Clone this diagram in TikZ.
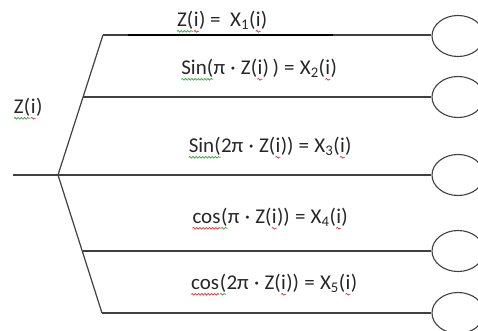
\documentclass[tikz,border=0pt]{standalone}
\usepackage{fontspec}
\setmainfont{Carlito}
\usetikzlibrary{shapes.geometric,decorations.pathmorphing}
\definecolor{ln}{HTML}{404040}
\definecolor{wgreen}{HTML}{3DA03D}
\definecolor{wred}{HTML}{E03030}
\newcommand\wv[2]{\tikz[baseline=(w.base),x=1pt,y=1pt]{\node[inner sep=0pt,outer sep=0pt,anchor=base] (w) {#2};\draw[#1,line width=0.7pt,decorate,decoration={snake,amplitude=0.9pt,segment length=3.2pt}] ([yshift=-4.5pt]w.base west) -- ([yshift=-4.5pt]w.base east);}}
\newcommand\gw[1]{\wv{wgreen}{#1}}
\newcommand\rw[1]{\wv{wred}{#1}}
\newcommand\gapsp{\hspace{0.25em}}
\tikzset{
  branch/.style={draw=ln, line width=1.2pt},
  endcirc/.style={draw=ln, line width=1.1pt, ellipse, minimum width=52pt, minimum height=41pt, inner sep=0pt},
  lbl/.style={font=\fontsize{21}{24}\selectfont, text=black!85, inner sep=0pt},
}
\begin{document}
\begin{tikzpicture}[x=1pt,y=-1pt]
\useasboundingbox (0,0) rectangle (478,331);
% end circles
\node[endcirc] (c1) at (458,36) {};
\node[endcirc] (c2) at (458,97) {};
\node[endcirc] (c3) at (458,175) {};
\node[endcirc] (c4) at (458,251) {};
\node[endcirc] (c5) at (458,313) {};
% branch points
\coordinate (in) at (13,175);
\coordinate (j) at (58,175);
\coordinate (a1) at (103,35);
\coordinate (a2) at (83,97);
\coordinate (a4) at (83,251);
\coordinate (a5) at (102,313);
\coordinate (t1) at (128,35);
\coordinate (t2) at (333,35);
% connectors
\draw[branch] (a1) -- (j) -- (a5);
\draw[branch] (in) -- (c3.west);
\draw[branch] (a1) -- (c1.west |- a1);
\draw[branch] (a2) -- (c2.west);
\draw[branch] (a4) -- (c4.west);
\draw[branch] (a5) -- (c5.west |- a5);
\draw[line width=2.2pt, black] (t1) -- (t2);
% labels
\node[lbl] (l1) at (222,22) {\gw{Z(}\rw{i})\ =\ \ X\textsubscript{1}(\rw{i})};
\node[lbl] (l2) at (259,70) {\gw{Sin(}π\gapsp·\gapsp Z(\rw{i})\,)\gapsp=\gapsp X\textsubscript{2}(\rw{i})};
\node[lbl] (l3) at (270,148) {\gw{Sin(}2π\gapsp·\gapsp Z(\rw{i}))\gapsp=\gapsp X\textsubscript{3}(\rw{i})};
\node[lbl] (l4) at (270,219) {\rw{cos}\gw{(}π\gapsp·\gapsp Z(\rw{i}))\gapsp=\gapsp X\textsubscript{4}(\rw{i})};
\node[lbl] (l5) at (274,285) {\rw{cos}\gw{(}2π\gapsp·\gapsp Z(\rw{i}))\gapsp=\gapsp X\textsubscript{5}(\rw{i})};
\node[lbl] (z) at (28,109) {\gw{Z(}\rw{i})};
\end{tikzpicture}
\end{document}
